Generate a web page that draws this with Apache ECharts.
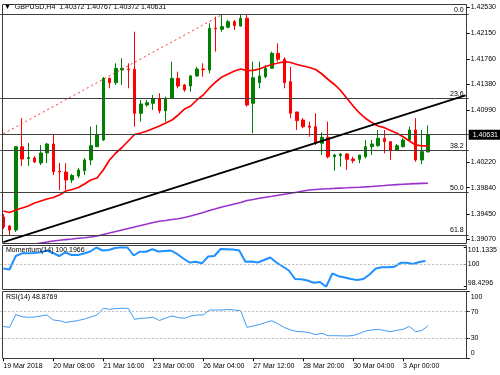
<!DOCTYPE html>
<html><head><meta charset="utf-8">
<script src="https://cdn.jsdelivr.net/npm/echarts@6/dist/echarts.min.js"></script>
<style>html,body{margin:0;padding:0;background:#fff}#c{width:500px;height:375px}</style>
</head><body><div id="c"></div>
<script>
const times = ['19 Mar 2018','19 Mar 04:00','19 Mar 08:00','19 Mar 12:00','19 Mar 16:00','19 Mar 20:00','20 Mar 00:00','20 Mar 04:00',
 '20 Mar 08:00','20 Mar 12:00','20 Mar 16:00','20 Mar 20:00','21 Mar 00:00','21 Mar 04:00','21 Mar 08:00','21 Mar 12:00',
 '21 Mar 16:00','21 Mar 20:00','22 Mar 00:00','22 Mar 04:00','22 Mar 08:00','22 Mar 12:00','22 Mar 16:00','22 Mar 20:00',
 '23 Mar 00:00','23 Mar 04:00','23 Mar 08:00','23 Mar 12:00','23 Mar 16:00','23 Mar 20:00','25 Mar 20:00','26 Mar 00:00',
 '26 Mar 04:00','26 Mar 08:00','26 Mar 12:00','26 Mar 16:00','26 Mar 20:00','27 Mar 00:00','27 Mar 04:00','27 Mar 08:00',
 '27 Mar 12:00','27 Mar 16:00','27 Mar 20:00','28 Mar 00:00','28 Mar 04:00','28 Mar 08:00','28 Mar 12:00','28 Mar 16:00',
 '28 Mar 20:00','29 Mar 00:00','29 Mar 04:00','29 Mar 08:00','29 Mar 12:00','29 Mar 16:00','29 Mar 20:00','30 Mar 00:00',
 '30 Mar 04:00','30 Mar 08:00','30 Mar 12:00','2 Apr 04:00','2 Apr 08:00','2 Apr 12:00','2 Apr 16:00','2 Apr 20:00',
 '3 Apr 00:00','3 Apr 04:00','3 Apr 08:00','3 Apr 12:00','3 Apr 16:00'];
const futureTimes = ['3 Apr 20:00','4 Apr 00:00','4 Apr 04:00','4 Apr 08:00','4 Apr 12:00','4 Apr 16:00'];

const open = [1.39403,1.39268,1.39209,1.40451,1.40275,1.40283,1.40208,1.40357,1.40491,1.40084,
 1.40074,1.39955,1.40014,1.40093,1.40253,1.40451,1.40551,1.41471,1.41406,1.41595,
 1.41610,1.41606,1.40949,1.41073,1.41098,1.41163,1.40988,1.41173,1.41471,1.41371,
 1.41356,1.41506,1.41610,1.41595,1.42217,1.42202,1.42232,1.42315,1.42251,1.42366,
 1.41098,1.41406,1.41495,1.41620,1.41844,1.41755,1.41421,1.40969,1.40849,1.40760,
 1.40749,1.40502,1.40591,1.40302,1.40317,1.40342,1.40268,1.40263,1.40302,1.40451,
 1.40466,1.40576,1.40526,1.40402,1.40451,1.40551,1.40700,1.40253,1.40372];
const close = [1.39254,1.39209,1.40451,1.40268,1.40290,1.40223,1.40357,1.40491,1.40078,1.40074,
 1.39955,1.40022,1.40104,1.40253,1.40466,1.40626,1.41471,1.41406,1.41620,1.41620,
 1.41600,1.40949,1.41088,1.41107,1.41163,1.40988,1.41173,1.41471,1.41356,1.41297,
 1.41506,1.41610,1.41600,1.42217,1.42207,1.42241,1.42315,1.42256,1.42366,1.41073,
 1.41480,1.41506,1.41620,1.41844,1.41755,1.41406,1.40949,1.40839,1.40749,1.40741,
 1.40502,1.40591,1.40302,1.40327,1.40342,1.40263,1.40242,1.40327,1.40451,1.40491,
 1.40576,1.40526,1.40392,1.40466,1.40551,1.40700,1.40253,1.40377,1.40631];
const low = [1.39224,1.39134,1.39179,1.40163,1.40163,1.40208,1.40178,1.40208,1.40029,1.39805,
 1.39805,1.39910,1.39984,1.40029,1.40178,1.40447,1.40536,1.41322,1.41371,1.41371,
 1.41322,1.40749,1.40824,1.41048,1.40999,1.40949,1.40824,1.41173,1.41322,1.41271,
 1.41271,1.41495,1.41495,1.41546,1.41868,1.42166,1.42217,1.42192,1.42241,1.41048,
 1.40651,1.41322,1.41471,1.41620,1.41719,1.41322,1.40875,1.40700,1.40726,1.40600,
 1.40477,1.40327,1.40278,1.40093,1.40153,1.40104,1.40204,1.40204,1.40278,1.40327,
 1.40451,1.40353,1.40253,1.40392,1.40442,1.40526,1.40227,1.40189,1.40372];
const high = [1.39447,1.39283,1.40462,1.40875,1.40506,1.40312,1.40477,1.40506,1.40641,1.40208,
 1.40204,1.40044,1.40133,1.40283,1.40749,1.40775,1.41491,1.41476,1.41695,1.41770,
 1.41695,1.42166,1.41148,1.41148,1.41222,1.41248,1.41197,1.41719,1.41570,1.41386,
 1.41520,1.41644,1.41695,1.42292,1.42390,1.42415,1.42341,1.42341,1.42415,1.42415,
 1.41719,1.41719,1.41670,1.41868,1.41993,1.41784,1.41644,1.40969,1.40875,1.40824,
 1.40949,1.40666,1.40824,1.40342,1.40353,1.40353,1.40302,1.40327,1.40551,1.40551,
 1.40700,1.40700,1.40526,1.40491,1.40576,1.40749,1.40875,1.40700,1.40767];

const maRed = [1.39492,1.39470,1.39507,1.39537,1.39567,1.39611,1.39641,1.39671,1.39694,1.39731,
 1.39790,1.39813,1.39843,1.39895,1.39955,1.39984,1.40104,1.40253,1.40357,1.40439,
 1.40536,1.40633,1.40655,1.40685,1.40723,1.40760,1.40805,1.40849,1.40924,1.41013,
 1.41058,1.41148,1.41222,1.41327,1.41416,1.41491,1.41535,1.41580,1.41610,1.41585,
 1.41588,1.41610,1.41647,1.41677,1.41699,1.41719,1.41707,1.41677,1.41655,1.41632,
 1.41603,1.41535,1.41453,1.41379,1.41289,1.41173,1.41058,1.40954,1.40872,1.40812,
 1.40760,1.40735,1.40693,1.40651,1.40600,1.40536,1.40477,1.40462,1.40462];
const maPurple = [1.38955,1.38963,1.38970,1.38985,1.38993,1.39000,1.39015,1.39030,1.39045,1.39055,
 1.39066,1.39075,1.39085,1.39094,1.39104,1.39119,1.39142,1.39164,1.39186,1.39209,
 1.39231,1.39254,1.39276,1.39298,1.39321,1.39339,1.39350,1.39365,1.39377,1.39395,
 1.39418,1.39443,1.39470,1.39500,1.39525,1.39552,1.39574,1.39597,1.39619,1.39649,
 1.39664,1.39682,1.39697,1.39711,1.39726,1.39741,1.39756,1.39773,1.39790,1.39805,
 1.39813,1.39820,1.39825,1.39829,1.39834,1.39838,1.39843,1.39847,1.39852,1.39858,
 1.39865,1.39872,1.39880,1.39886,1.39892,1.39896,1.39901,1.39904,1.39907];

const momentum = [99.678,99.610,100.536,100.722,100.722,100.742,100.790,100.914,100.742,100.536,
 100.777,100.605,100.605,100.708,100.845,101.120,100.914,100.948,101.085,101.1335,
 101.120,100.571,100.832,100.832,100.996,100.845,100.880,100.914,100.674,100.365,
 100.090,100.145,100.035,100.502,100.536,101.017,101.003,100.983,100.914,100.145,
 100.159,100.090,100.262,100.434,100.090,99.816,99.541,98.958,98.937,98.855,
 98.704,98.752,98.4296,99.335,99.150,99.061,98.958,98.889,98.958,99.267,
 99.678,99.761,99.761,99.802,100.070,100.077,99.987,100.125,100.1966];
const rsi = [47.75,46.55,65.77,62.46,61.56,62.01,63.51,65.02,57.51,56.46,
 53.75,55.26,56.76,59.01,62.01,65.02,75.08,73.57,74.77,75.08,
 75.08,58.56,60.06,60.51,61.56,56.76,60.51,63.51,61.26,60.06,
 63.51,65.02,65.02,72.52,72.52,72.52,73.27,72.52,71.47,46.55,
 48.50,50.75,53.75,56.46,51.50,46.25,42.49,40.24,39.79,38.44,
 35.44,37.54,33.93,33.93,33.78,33.48,34.23,37.24,40.99,42.49,
 43.54,41.74,39.94,42.04,43.54,47.75,39.94,41.74,48.8769];

const priceTicks = [1.3907,1.3945,1.3984,1.4022,1.4099,1.4138,1.4176,1.4215,1.4253];
const fibLabels = ['0.0','23.6','38.2','50.0','61.8'];
const fibPrices = [1.42420,1.41167,1.40392,1.39765,1.39138];
const trendBlack = [[0,1.39028],[74,1.41217]];
const trendFib = [[0,1.40644],[35,1.42420]];
const momTicks = [98.4296,100,101.1335];
const rsiTicks = [0,30,70,100];
const rsiLevels = [30,70];

const FONT = '"Liberation Sans", Arial, sans-serif';
const cats = times.concat(futureTimes);
const n = open.length;
const candleData = open.map((o,i)=>[o, close[i], low[i], high[i]]);
const showIdx = (i) => i % 8 === 0 && i < n;
const gl = 0.2, gw = 468.5;
const lbl = {fontSize:7, color:'#000', fontFamily:FONT};

const chart = echarts.init(document.getElementById('c'));
chart.setOption({
  animation:false,
  backgroundColor:'#fff',
  textStyle:{fontFamily:FONT},
  title:[
    {text:'\u25BC  GBPUSD,H4  ' + [open[n-1],high[n-1],low[n-1],close[n-1]].map(v=>v.toFixed(5)).join(' '),
     left:4, top:4, padding:0, textStyle:{fontSize:7, fontWeight:'normal', color:'#000', fontFamily:FONT}},
    {text:'Momentum(14) ' + momentum[n-1].toFixed(4), left:6, top:247, padding:0,
     textStyle:{fontSize:7, fontWeight:'normal', color:'#000', fontFamily:FONT}},
    {text:'RSI(14) ' + rsi[n-1].toFixed(4), left:6, top:294, padding:0,
     textStyle:{fontSize:7, fontWeight:'normal', color:'#000', fontFamily:FONT}}
  ],
  grid:[
    {left:gl, top:5, width:gw, height:238},
    {left:gl, top:247.3, width:gw, height:39.4},
    {left:gl, top:291.7, width:gw, height:66.6}
  ],
  xAxis:[0,1,2].map(g=>({
    type:'category', gridIndex:g, data:cats, boundaryGap:true,
    axisLine:{show:false},
    axisTick:{show:g===2, interval:showIdx, alignWithLabel:true, length:3, lineStyle:{color:'#000'}},
    axisLabel:{show:g===2, interval:showIdx, align:'left', margin:4, ...lbl},
    splitLine:{show:false}
  })),
  yAxis:[
    {type:'value', gridIndex:0, position:'right', offset:-2, min:1.39015, max:1.42564,
     splitLine:{show:false}, axisLine:{show:false},
     axisTick:{show:true, length:3, customValues:priceTicks, lineStyle:{color:'#000'}},
     axisLabel:{customValues:priceTicks, formatter:v=>v.toFixed(5), margin:4, ...lbl}},
    {type:'value', gridIndex:1, position:'right', offset:-2, min:momTicks[0], max:momTicks[2],
     splitLine:{show:false}, axisLine:{show:false},
     axisTick:{show:true, length:3, customValues:momTicks, lineStyle:{color:'#000'}},
     axisLabel:{customValues:momTicks, margin:4, ...lbl,
       formatter:v=>{
         if (Math.abs(v-momTicks[2])<1e-6) return '{t|'+momTicks[2].toFixed(4)+'}';
         if (Math.abs(v-momTicks[0])<1e-6) return '{b|'+momTicks[0].toFixed(4)+'}';
         return String(Math.round(v));
       },
       rich:{t:{fontSize:7, fontFamily:FONT, color:'#000', padding:[6,0,0,0]}, b:{fontSize:7, fontFamily:FONT, color:'#000', padding:[0,0,7,0]}}}},
    {type:'value', gridIndex:2, position:'right', offset:-2, min:0, max:100,
     splitLine:{show:false}, axisLine:{show:false},
     axisTick:{show:true, length:3, customValues:rsiTicks, lineStyle:{color:'#000'}},
     axisLabel:{customValues:rsiTicks, margin:4, ...lbl,
       formatter:v=>{
         if (v===100) return '{t|100}';
         if (v===0) return '{b|0}';
         return String(v);
       },
       rich:{t:{fontSize:7, fontFamily:FONT, color:'#000', padding:[10,0,0,0]}, b:{fontSize:7, fontFamily:FONT, color:'#000', padding:[0,0,10,0]}}}}
  ],
  graphic:[
    {type:'rect', shape:{x:2.5, y:4.5, width:464, height:239}, style:{fill:'none', stroke:'#3a3a3a', lineWidth:1}, silent:true, z:100},
    {type:'rect', shape:{x:2.5, y:245.5, width:464, height:44}, style:{fill:'none', stroke:'#3a3a3a', lineWidth:1}, silent:true, z:100},
    {type:'rect', shape:{x:2.5, y:291.5, width:464, height:67}, style:{fill:'none', stroke:'#3a3a3a', lineWidth:1}, silent:true, z:100}
  ],
  series:[
    {type:'candlestick', xAxisIndex:0, yAxisIndex:0, data:candleData, barWidth:3,
     itemStyle:{color:'#008000', color0:'#ff0000', borderColor:'#008000', borderColor0:'#ff0000', borderWidth:1},
     markLine:{symbol:['none','none'], silent:true, animation:false, precision:5,
       data:[
         ...fibPrices.map((p,i)=>({yAxis:p, lineStyle:{color:'#404040', width:1, type:'solid'},
            label:{show:true, position:'insideEndTop', formatter:fibLabels[i], distance:[5,1], ...lbl}})),
         {yAxis:close[n-1], lineStyle:{color:'#404040', width:1, type:'solid'},
            label:{show:true, position:'end', formatter:close[n-1].toFixed(5), distance:0,
              backgroundColor:'#000', color:'#fff', padding:[2,4,1,4], fontSize:7, fontFamily:FONT}},
         [{coord:trendBlack[0], lineStyle:{color:'#000', width:2, type:'solid'}, label:{show:false}}, {coord:trendBlack[1]}],
         [{coord:trendFib[0], lineStyle:{color:'#ff3030', width:1, type:[2,3]}, label:{show:false}}, {coord:trendFib[1]}]
       ]}},
    {type:'line', xAxisIndex:0, yAxisIndex:0, data:maPurple, symbol:'none', lineStyle:{color:'#9932cc', width:1.6}},
    {type:'line', xAxisIndex:0, yAxisIndex:0, data:maRed, symbol:'none', lineStyle:{color:'#ff0000', width:1.7}},
    {type:'line', xAxisIndex:1, yAxisIndex:1, data:momentum, symbol:'none', lineStyle:{color:'#1e90ff', width:2},
     markLine:{symbol:['none','none'], silent:true, animation:false, label:{show:false},
       data:[{yAxis:100}], lineStyle:{color:'#b8b8b8', width:1, type:[2,2]}}},
    {type:'line', xAxisIndex:2, yAxisIndex:2, data:rsi, symbol:'none', lineStyle:{color:'#3d9cf5', width:1},
     markLine:{symbol:['none','none'], silent:true, animation:false, label:{show:false},
       data:rsiLevels.map(v=>({yAxis:v})), lineStyle:{color:'#b8b8b8', width:1, type:[2,2]}}}
  ]
});
</script></body></html>
